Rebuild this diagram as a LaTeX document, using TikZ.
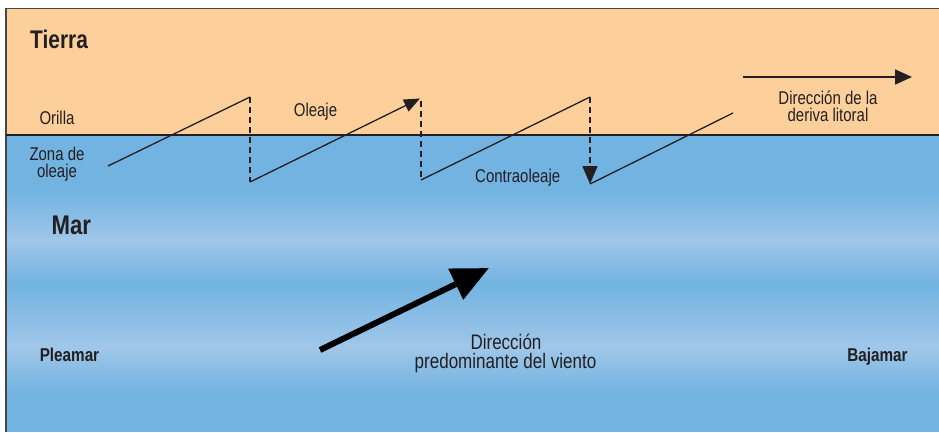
\documentclass[tikz,border=0pt]{standalone}
\usepackage{fontspec}
\usetikzlibrary{arrows.meta}
\newfontfamily\labf[FakeStretch=0.81]{Liberation Sans}
\newfontfamily\boldf[FakeStretch=0.82]{Liberation Sans}
\definecolor{land}{RGB}{253,208,155}
\definecolor{seadark}{RGB}{114,179,225}
\definecolor{sealight}{RGB}{160,199,233}
\definecolor{ink}{RGB}{35,31,32}
\definecolor{framec}{RGB}{70,70,70}
\begin{document}
\begin{tikzpicture}[x=1pt,y=-1pt,
  lab/.style={font=\labf\fontsize{18.5}{20}\selectfont, text=ink, inner sep=0pt, anchor=base},
  windlab/.style={lab, font=\labf\fontsize{21}{22}\selectfont},
  bigname/.style={font=\boldf\bfseries\fontsize{25.5}{28}\selectfont, text=ink, inner sep=0pt, anchor=base west},
  sidename/.style={font=\boldf\bfseries\fontsize{18.6}{20}\selectfont, text=ink, inner sep=0pt, anchor=base},
  wave/.style={line width=1.3pt, draw=ink},
  backwash/.style={line width=1.4pt, draw=ink, dash pattern=on 6pt off 4pt},
  smalltip/.style={-{Triangle[length=16pt,width=13pt]}},
]
\useasboundingbox (0,0) rectangle (939,432);
\fill[white] (0,0) rectangle (939,432);
% land
\fill[land] (6,8.5) rectangle (939,135);
% sea with horizontal bands
\fill[seadark] (6,135) rectangle (939,190.5);
\shade[top color=seadark,bottom color=sealight] (6,190) rectangle (939,240.5);
\shade[top color=sealight,bottom color=seadark] (6,240) rectangle (939,283.5);
\shade[top color=seadark,bottom color=sealight] (6,283) rectangle (939,347.5);
\shade[top color=sealight,bottom color=seadark] (6,347) rectangle (939,392.5);
\fill[seadark] (6,392) rectangle (939,432);
% frame
\draw[framec, line width=1.2pt] (6,8.5) -- (939,8.5);
\draw[framec, line width=2pt] (6,8) -- (6,432);
% shore line
\draw[ink, line width=2pt] (6,135) -- (939,135);

% wave path points
\coordinate (w0) at (108,166);
\coordinate (w1) at (250,97);
\coordinate (w2) at (250,182);
\coordinate (w3) at (420,98.5);
\coordinate (w3d) at (421,101);
\coordinate (w4) at (421,180);
\coordinate (w5) at (590,97);
\coordinate (w6) at (590,184);
\coordinate (w7) at (733,113);
\draw[wave] (w0) -- (w1);
\draw[backwash] (w1) -- (w2);
\draw[wave, smalltip] (w2) -- (w3);
\draw[backwash] (w3d) -- (w4);
\draw[wave] (w4) -- (w5);
\draw[backwash, -{Triangle[length=18pt,width=15pt]}] (w5) -- (w6);
\draw[wave] (w6) -- (w7);

% longshore drift arrow
\coordinate (d0) at (743,77);
\coordinate (d1) at (912,77);
\draw[line width=1.6pt, draw=ink, -{Triangle[length=17pt,width=15pt]}] (d0) -- (d1);

% wind arrow
\coordinate (v0) at (320,350);
\coordinate (v1) at (489,268);
\draw[line width=6pt, draw=black, -{Triangle[length=37pt,width=33pt]}] (v0) -- (v1);

% labels
\node[bigname] (tierra) at (30,48.3) {Tierra};
\node[bigname, font=\boldf\bfseries\fontsize{27}{30}\selectfont] (mar) at (51.5,234) {Mar};
\node[lab] (orilla) at (57,124.3) {Orilla};
\node[lab] (zona1) at (57,160) {Zona de};
\node[lab] (zona2) at (57,177.7) {oleaje};
\node[lab] (oleaje) at (315.5,116) {Oleaje};
\node[lab] (contra) at (517.7,182) {Contraoleaje};
\node[lab] (deriva1) at (828,104.3) {Dirección de la};
\node[lab] (deriva2) at (828,121.7) {deriva litoral};
\node[windlab] (viento1) at (506,349) {Dirección};
\node[windlab] (viento2) at (505.5,368.3) {predominante del viento};
\node[sidename] (pleamar) at (69.5,361.7) {Pleamar};
\node[sidename] (bajamar) at (877.5,361.7) {Bajamar};
\end{tikzpicture}
\end{document}
